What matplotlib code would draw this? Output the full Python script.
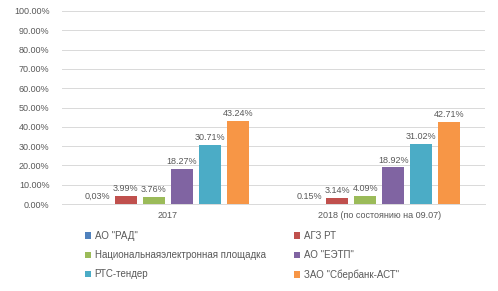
import matplotlib
matplotlib.use("Agg")
import matplotlib.pyplot as plt
import numpy as np
from matplotlib.ticker import FuncFormatter

plt.rcParams['font.family'] = ['Liberation Sans', 'DejaVu Sans']

categories = ['2017', '2018 (по состоянию на 09.07)']
series_names = ['АО "РАД"', 'АГЗ РТ', 'Национальнаяэлектронная площадка',
                'АО "ЕЭТП"', 'РТС-тендер', 'ЗАО "Сбербанк-АСТ"']
values = [
    [0.03, 0.15],
    [3.99, 3.14],
    [3.76, 4.09],
    [18.27, 18.92],
    [30.71, 31.02],
    [43.24, 42.71],
]
labels = [
    ['0,03%', '0.15%'],
    ['3.99%', '3.14%'],
    ['3.76%', '4.09%'],
    ['18.27%', '18.92%'],
    ['30.71%', '31.02%'],
    ['43.24%', '42.71%'],
]
colors = ['#4F81BD', '#C0504D', '#9BBB59', '#8064A2', '#4BACC6', '#F79646']

W, H = 498, 291
fig = plt.figure(figsize=(W / 100, H / 100), dpi=100)
ax = fig.add_axes([62 / W, 1 - 204 / H, (485 - 62) / W, (204 - 11) / H])

text_color = '#595959'
fs = 6.5
x = np.arange(len(categories))
step = 0.1324
bw = 0.104
handles = []
for i, (name, vals, labs, c) in enumerate(zip(series_names, values, labels, colors)):
    off = (i - 2.5) * step
    b = ax.bar(x + off, vals, width=bw, color=c, label=name, zorder=3)
    handles.append(b)
    for xi, v, lab in zip(x, vals, labs):
        ax.text(xi + off, v + 1.5, lab, ha='center', va='bottom', fontsize=fs,
                color=text_color)

ax.set_xlim(-0.5, 1.5)
ax.set_ylim(0, 100)
ax.set_yticks(np.arange(0, 101, 10))
ax.yaxis.set_major_formatter(FuncFormatter(lambda v, p: f'{v:.2f}%'))
ax.set_xticks(x)
ax.set_xticklabels(categories)
ax.tick_params(axis='both', length=0, labelsize=fs, colors=text_color)
ax.tick_params(axis='y', pad=9)
ax.tick_params(axis='x', pad=5)
ax.grid(axis='y', color='#D9D9D9', linewidth=0.7, zorder=0)
for s in ['top', 'right', 'left']:
    ax.spines[s].set_visible(False)
ax.spines['bottom'].set_color('#D9D9D9')
ax.spines['bottom'].set_linewidth(0.7)

leg_kw = dict(ncol=1, loc='upper left', frameon=False, fontsize=7,
              handlelength=0.6, handleheight=0.6, handletextpad=0.4,
              labelspacing=0.95, labelcolor=text_color, borderpad=0,
              borderaxespad=0)
leg1 = fig.legend(handles=[handles[i] for i in (0, 2, 4)],
                  labels=[series_names[i] for i in (0, 2, 4)],
                  bbox_to_anchor=(85 / W, 1 - 231 / H), **leg_kw)
leg2 = fig.legend(handles=[handles[i] for i in (1, 3, 5)],
                  labels=[series_names[i] for i in (1, 3, 5)],
                  bbox_to_anchor=(294 / W, 1 - 231 / H), **leg_kw)

fig.savefig('out.png', dpi=100)
